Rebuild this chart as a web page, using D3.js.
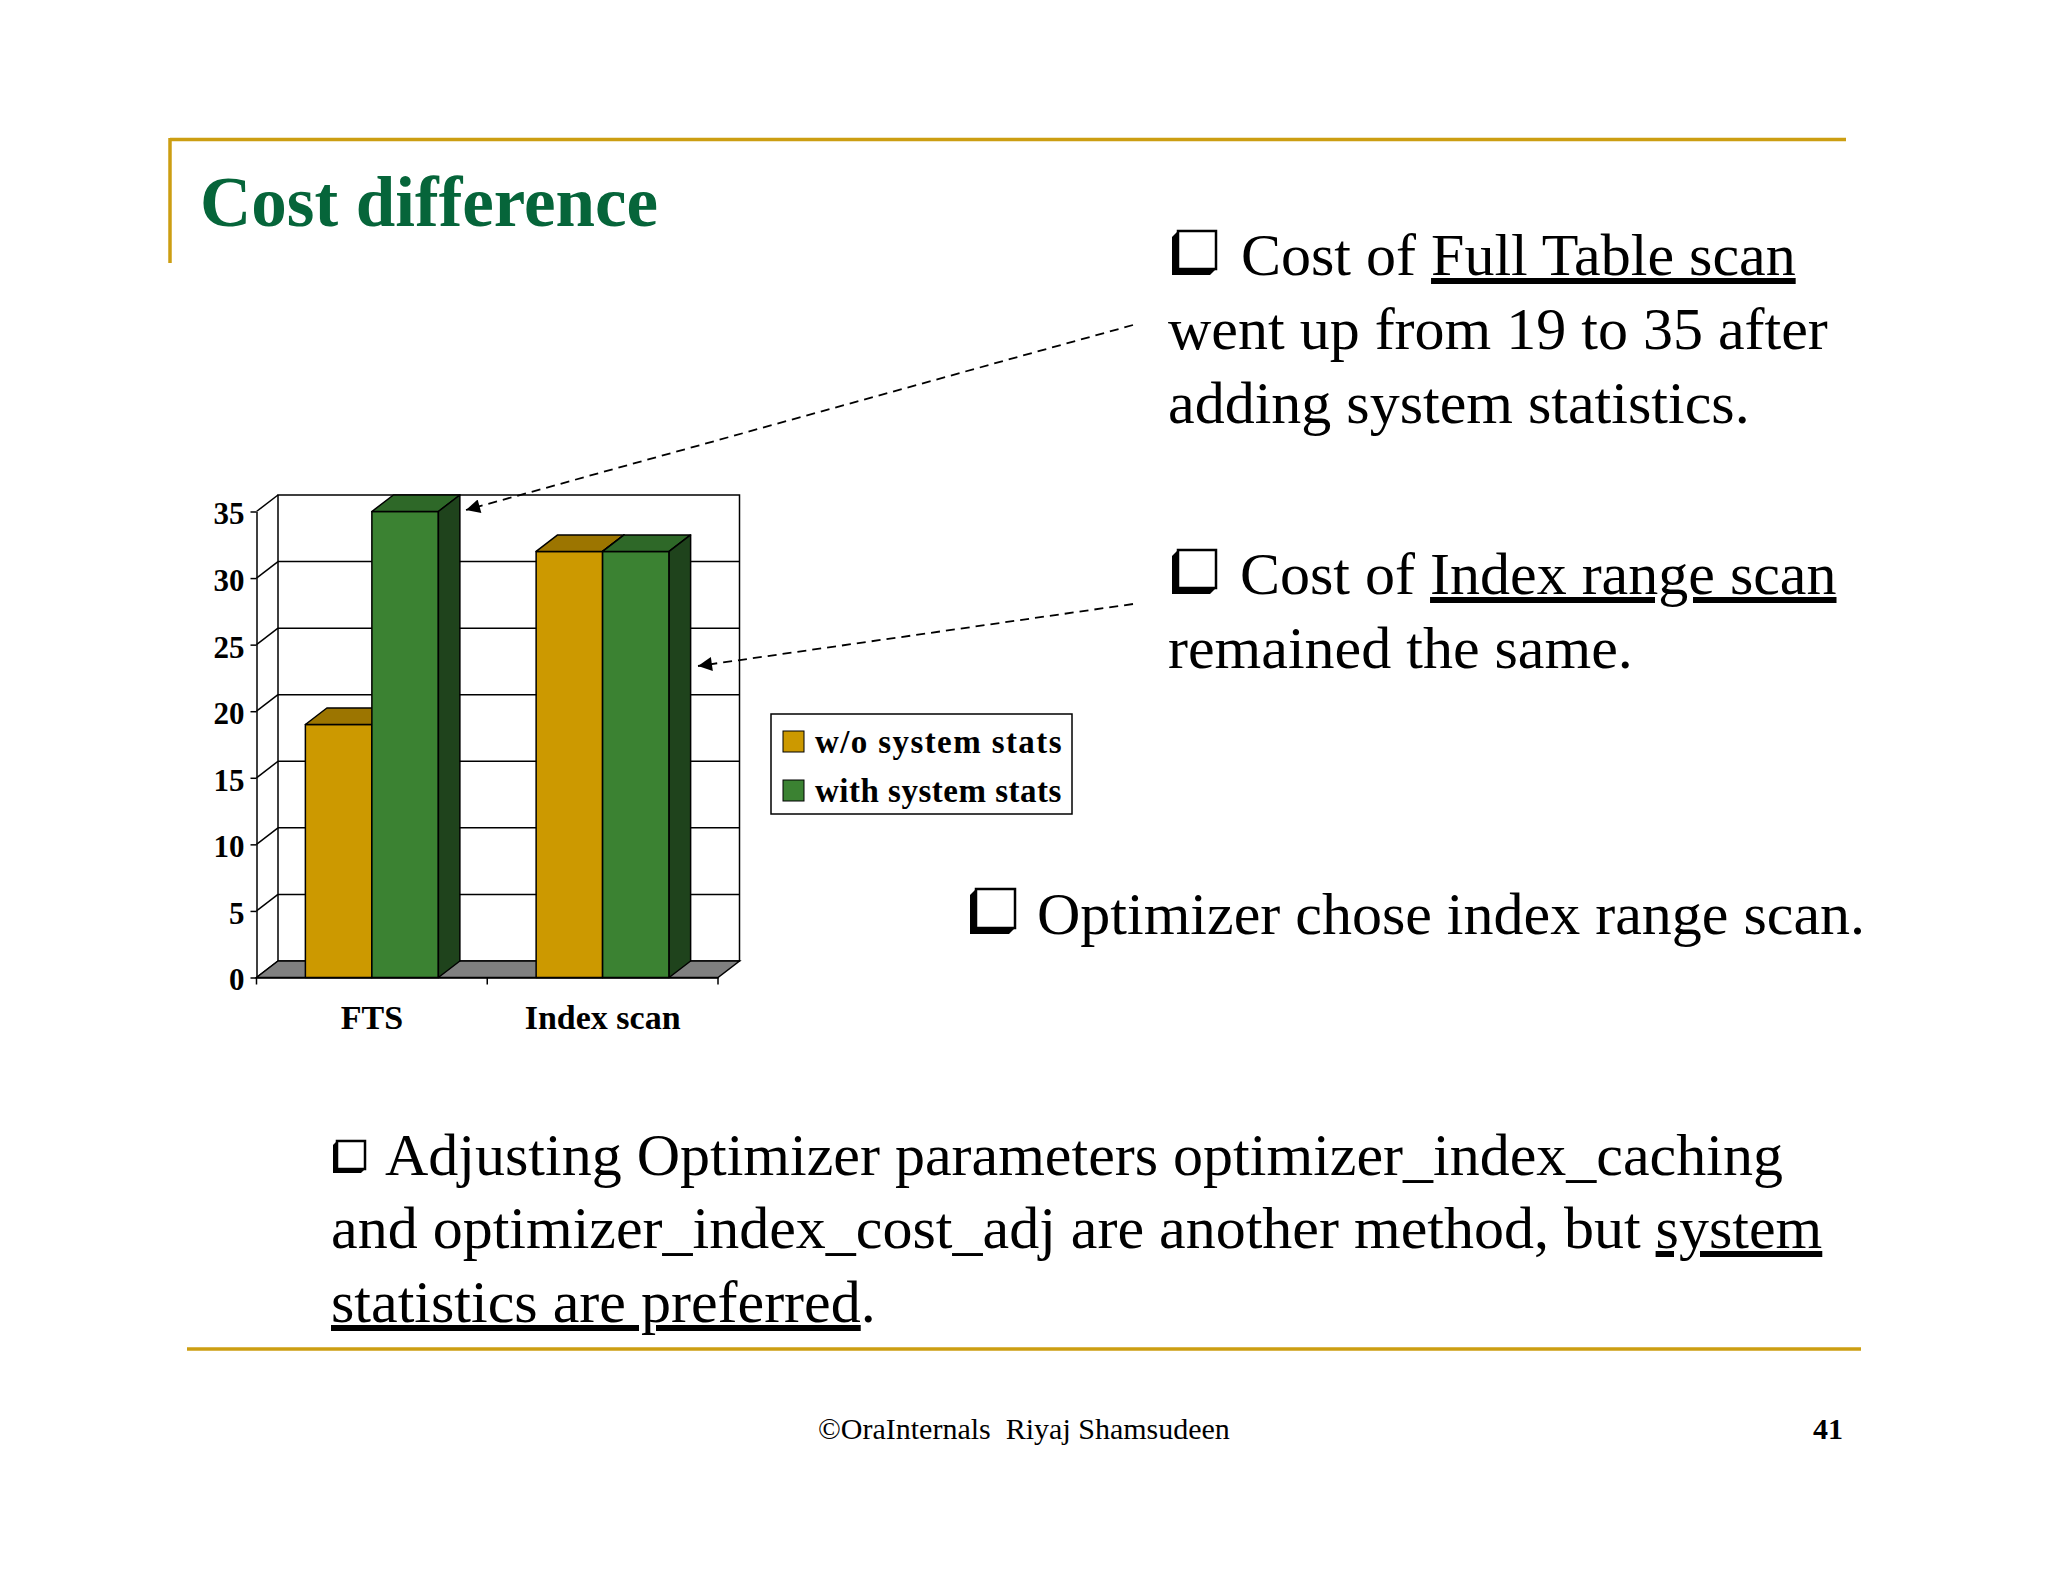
<!DOCTYPE html>
<html>
<head>
<meta charset="utf-8">
<script src="https://cdn.jsdelivr.net/npm/d3@7"></script>
<style>
  body { margin: 0; background: #fff; }
  svg { display: block; font-family: "Liberation Serif", "Times New Roman", serif; }
  .u { text-decoration: underline; }
</style>
</head>
<body>
<script>
// chart data
var categories = ['FTS', 'Index scan']
var series = ['w/o system stats', 'with system stats']
var noStats = [19, 32]
var withStats = [35, 32]
var yTicks = [0, 5, 10, 15, 20, 25, 30, 35]

var faces = {
  'w/o system stats': {front: '#cc9900', top: '#9c7500', side: '#7a5c00'},
  'with system stats': {front: '#3b8232', top: '#2e6828', side: '#1f431c'}
}

var svg = d3.select('body').append('svg')
  .attr('width', 2048)
  .attr('height', 1582)

var gold = '#cc9e12'

// slide frame
svg.append('line').attr('x1', 170).attr('x2', 1846).attr('y1', 139.5).attr('y2', 139.5)
  .attr('stroke', gold).attr('stroke-width', 3.5)
svg.append('line').attr('x1', 170).attr('x2', 170).attr('y1', 138).attr('y2', 263)
  .attr('stroke', gold).attr('stroke-width', 3.5)
svg.append('line').attr('x1', 187).attr('x2', 1861).attr('y1', 1349).attr('y2', 1349)
  .attr('stroke', gold).attr('stroke-width', 3.5)

svg.append('text')
  .attr('x', 200).attr('y', 226)
  .attr('font-size', 71).attr('font-weight', 'bold')
  .attr('fill', '#06653a')
  .text('Cost difference')

// chart geometry
var X0 = 256.5, X1 = 718, Y0 = 977.5, Ytop = 511.5
var DX = 21.5, DY = -16.5

var x = d3.scaleBand().domain(categories).range([X0, X1])
var xs = d3.scaleBand().domain(series).range([0, x.bandwidth()]).paddingOuter(0.735)
var y = d3.scaleLinear().domain([0, 35]).range([Y0, Ytop])

var chart = svg.append('g')

// back wall
chart.append('rect')
  .attr('x', X0 + DX).attr('y', y(35) + DY)
  .attr('width', X1 - X0).attr('height', Y0 - y(35))
  .attr('fill', '#fff').attr('stroke', '#000').attr('stroke-width', 1.5)

chart.selectAll('line.grid')
  .data(yTicks.filter(d => d > 0 && d < 35))
  .enter()
  .append('line')
    .attr('class', 'grid')
    .attr('x1', X0 + DX).attr('x2', X1 + DX)
    .attr('y1', d => y(d) + DY).attr('y2', d => y(d) + DY)
    .attr('stroke', '#000').attr('stroke-width', 1.5)

chart.selectAll('line.side')
  .data(yTicks)
  .enter()
  .append('line')
    .attr('class', 'side')
    .attr('x1', X0).attr('x2', X0 + DX)
    .attr('y1', d => y(d)).attr('y2', d => y(d) + DY)
    .attr('stroke', '#000').attr('stroke-width', 1.5)

// floor
chart.append('polygon')
  .attr('points', [[X0, Y0], [X1, Y0], [X1 + DX, Y0 + DY], [X0 + DX, Y0 + DY]].join(' '))
  .attr('fill', '#808080').attr('stroke', '#000').attr('stroke-width', 1.5)

// bars
var bars = []
categories.forEach(function (c, i) {
  bars.push({cat: c, ser: series[0], v: noStats[i]})
  bars.push({cat: c, ser: series[1], v: withStats[i]})
})

var bar = chart.selectAll('g.bar')
  .data(bars)
  .enter()
  .append('g')
    .attr('class', 'bar')
    .attr('stroke', '#000')
    .attr('stroke-width', 1.5)
    .attr('stroke-linejoin', 'round')

bar.append('rect')
  .attr('x', d => x(d.cat) + xs(d.ser))
  .attr('y', d => y(d.v))
  .attr('width', xs.bandwidth())
  .attr('height', d => Y0 - y(d.v))
  .attr('fill', d => faces[d.ser].front)

bar.append('polygon')
  .attr('points', function (d) {
    var bx = x(d.cat) + xs(d.ser), w = xs.bandwidth(), t = y(d.v)
    return [[bx, t], [bx + w, t], [bx + w + DX, t + DY], [bx + DX, t + DY]].join(' ')
  })
  .attr('fill', d => faces[d.ser].top)

bar.append('polygon')
  .attr('points', function (d) {
    var bx = x(d.cat) + xs(d.ser), w = xs.bandwidth(), t = y(d.v)
    return [[bx + w, t], [bx + w + DX, t + DY], [bx + w + DX, Y0 + DY], [bx + w, Y0]].join(' ')
  })
  .attr('fill', d => faces[d.ser].side)

// axes
var yAxis = chart.append('g')
  .attr('transform', 'translate(' + X0 + ',0)')
  .call(d3.axisLeft(y).tickValues(yTicks).tickSize(6).tickSizeOuter(0).tickPadding(6))
yAxis.selectAll('path, line').attr('stroke', '#000').attr('stroke-width', 1.5)
yAxis.selectAll('text')
  .attr('font-family', '"Liberation Serif", serif')
  .attr('font-size', 31).attr('font-weight', 'bold')
  .attr('fill', '#000').attr('dy', '0.4em')

var xAxis = chart.append('g')
  .attr('transform', 'translate(0,' + Y0 + ')')
  .call(d3.axisBottom(x).tickSize(0).tickPadding(0))
xAxis.select('.domain').attr('stroke', '#000').attr('stroke-width', 1.5)
xAxis.selectAll('text')
  .attr('font-family', '"Liberation Serif", serif')
  .attr('font-size', 34).attr('font-weight', 'bold')
  .attr('fill', '#000').attr('dy', 0).attr('y', 51)

var bounds = [X0].concat(categories.map(c => x(c) + x.bandwidth()))
chart.selectAll('line.xtick')
  .data(bounds)
  .enter()
  .append('line')
    .attr('class', 'xtick')
    .attr('x1', d => d).attr('x2', d => d)
    .attr('y1', Y0).attr('y2', Y0 + 7)
    .attr('stroke', '#000').attr('stroke-width', 1.5)

// legend
var legend = svg.append('g').attr('transform', 'translate(771,714)')
legend.append('rect')
  .attr('width', 301).attr('height', 100)
  .attr('fill', '#fff').attr('stroke', '#000').attr('stroke-width', 1.5)
var item = legend.selectAll('g.item')
  .data(series)
  .enter()
  .append('g')
    .attr('class', 'item')
    .attr('transform', (d, i) => 'translate(12,' + (17 + i * 49) + ')')
item.append('rect')
  .attr('width', 21).attr('height', 21)
  .attr('fill', d => faces[d].front)
  .attr('stroke', '#000').attr('stroke-width', 1)
item.append('text')
  .attr('x', 32).attr('y', 22)
  .attr('font-size', 33).attr('font-weight', 'bold')
  .attr('letter-spacing', (d, i) => i === 0 ? 1.4 : 0.5)
  .text(d => d)

// annotation arrows
svg.append('defs').append('marker')
  .attr('id', 'head')
  .attr('viewBox', '0 0 10 10')
  .attr('refX', 10).attr('refY', 5)
  .attr('markerWidth', 20).attr('markerHeight', 14)
  .attr('markerUnits', 'userSpaceOnUse')
  .attr('orient', 'auto')
  .append('path').attr('d', 'M0,0L10,5L0,10Z').attr('fill', '#000')

var arrows = [[[1133, 325], [466, 510]], [[1133, 604], [698, 666]]]
svg.selectAll('line.arrow')
  .data(arrows)
  .enter()
  .append('line')
    .attr('class', 'arrow')
    .attr('x1', d => d[0][0]).attr('y1', d => d[0][1])
    .attr('x2', d => d[1][0]).attr('y2', d => d[1][1])
    .attr('stroke', '#000').attr('stroke-width', 1.8)
    .attr('stroke-dasharray', '9,6')
    .attr('marker-end', 'url(#head)')

// bullet text
function bullet(xl, bottom, s, sh) {
  var sx = xl + sh, sy = bottom - sh - s
  svg.append('polygon')
    .attr('points', [[sx, sy], [sx + s, sy], [sx + s, sy + s], [sx + s - sh, sy + s + sh],
      [sx - sh, sy + s + sh], [sx - sh, sy + sh]].join(' '))
    .attr('fill', '#000')
  svg.append('rect')
    .attr('x', sx).attr('y', sy).attr('width', s).attr('height', s)
    .attr('fill', '#fff').attr('stroke', '#000').attr('stroke-width', 2.5)
}

function line(xp, yp, parts, size) {
  var t = svg.append('text')
    .attr('x', xp).attr('y', yp)
    .attr('font-size', size || 60)
    .attr('fill', '#000')
  parts.forEach(function (p) {
    t.append('tspan')
      .attr('class', p[1] ? 'u' : null)
      .text(p[0])
  })
}

bullet(1172, 275, 38, 6)
line(1241, 275, [['Cost of '], ['Full Table scan', true]])
line(1168, 349, [['went up from 19 to 35 after']])
line(1168, 423, [['adding system statistics.']])

bullet(1172, 594, 38, 6)
line(1240, 594, [['Cost of '], ['Index range scan', true]])
line(1168, 668, [['remained the same.']])

bullet(970, 934, 39, 6)
line(1037, 934, [['Optimizer chose index range scan.']])

bullet(333, 1173, 28, 4)
line(385, 1175, [['Adjusting Optimizer parameters optimizer_index_caching']])
line(331, 1248, [['and optimizer_index_cost_adj are another method, but '], ['system', true]])
line(331, 1322, [['statistics are preferred', true], ['.']])

// footer
svg.append('text')
  .attr('x', 818).attr('y', 1439)
  .attr('font-size', 30)
  .attr('xml:space', 'preserve')
  .style('white-space', 'pre')
  .text('\u00a9OraInternals  Riyaj Shamsudeen')
svg.append('text')
  .attr('x', 1843).attr('y', 1439)
  .attr('text-anchor', 'end')
  .attr('font-size', 30).attr('font-weight', 'bold')
  .text('41')
</script>
</body>
</html>
